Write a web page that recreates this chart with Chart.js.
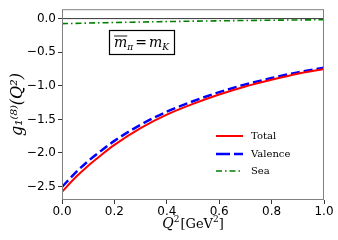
<!DOCTYPE html>
<html>
<head>
<meta charset="utf-8">
<script src="https://cdn.jsdelivr.net/npm/chart.js@4.4.1/dist/chart.umd.min.js"></script>
<style>
  html, body { margin: 0; padding: 0; background: #fff; }
  #wrap { width: 338px; height: 240px; }
</style>
</head>
<body>
<div id="wrap"><canvas id="grafica"></canvas></div>
<script>
//Datos
const qValues = [0, 0.05, 0.1, 0.15, 0.2, 0.3, 0.4, 0.5, 0.6, 0.7, 0.8, 0.9, 1.0];
const totalValues = [-2.58, -2.37, -2.19, -2.03, -1.88, -1.63, -1.43, -1.27, -1.13, -1.01, -0.91, -0.82, -0.75];
const valenceValues = [-2.505, -2.30, -2.12, -1.965, -1.82, -1.58, -1.385, -1.23, -1.095, -0.98, -0.885, -0.80, -0.73];
const seaValues = [-0.075, -0.071, -0.066, -0.062, -0.058, -0.051, -0.044, -0.038, -0.033, -0.028, -0.024, -0.020, -0.017];

const xTicks = [0, 0.2, 0.4, 0.6, 0.8, 1.0];
const yTicks = [0, -0.5, -1.0, -1.5, -2.0, -2.5];
const legendLabels = ['Total', 'Valence', 'Sea'];

function puntos(ys) {
  return qValues.map((q, i) => ({ x: q, y: ys[i] }));
}

function formato(v) {
  return v.toFixed(1).replace('-', '\u2212');
}

//Extras: linea cero, marco, leyenda, caja de texto y titulo x
const extras = {
  id: 'extras',
  beforeDatasetsDraw(chart) {
    const { ctx, chartArea, scales } = chart;
    const y0 = scales.y.getPixelForValue(0);
    ctx.save();
    ctx.strokeStyle = '#000';
    ctx.lineWidth = 0.8;
    ctx.beginPath();
    ctx.moveTo(chartArea.left, y0);
    ctx.lineTo(chartArea.right, y0);
    ctx.stroke();
    ctx.restore();
  },
  afterDraw(chart) {
    const { ctx, chartArea } = chart;
    ctx.save();
    // marco
    ctx.strokeStyle = '#808080';
    ctx.lineWidth = 1;
    ctx.strokeRect(chartArea.left + 0.5, chartArea.top + 0.5,
      chartArea.right - chartArea.left - 1, chartArea.bottom - chartArea.top - 1);

    // leyenda
    const ds = chart.data.datasets;
    const ys = [136, 154, 171];
    ctx.font = '10px "DejaVu Serif"';
    ctx.textBaseline = 'middle';
    ctx.fillStyle = '#000';
    for (let i = 0; i < 3; i++) {
      ctx.strokeStyle = ds[i].borderColor;
      ctx.lineWidth = ds[i].borderWidth;
      ctx.setLineDash(i === 0 ? [] : (i === 1 ? [14, 4] : [6, 3, 1.5, 3]));
      ctx.beginPath();
      ctx.moveTo(216, ys[i]);
      ctx.lineTo(243, ys[i]);
      ctx.stroke();
      ctx.setLineDash([]);
      ctx.fillText(legendLabels[i], 251, ys[i]);
    }

    // caja de texto
    ctx.strokeStyle = '#000';
    ctx.lineWidth = 1.2;
    ctx.strokeRect(109.5, 30.5, 65, 24);
    ctx.textBaseline = 'alphabetic';
    ctx.font = 'italic 14px "DejaVu Serif"';
    let x = 114;
    const base = 47;
    const wm = ctx.measureText('m').width;
    ctx.fillText('m', x, base);
    ctx.lineWidth = 0.9;
    ctx.beginPath();
    ctx.moveTo(x, base - 11);
    ctx.lineTo(x + wm, base - 11);
    ctx.stroke();
    x += wm;
    ctx.font = 'italic 9px "DejaVu Serif"';
    ctx.fillText('\u03c0', x, base + 3);
    x += ctx.measureText('\u03c0').width + 2;
    ctx.font = '14px "DejaVu Serif"';
    ctx.fillText('=', x, base);
    x += ctx.measureText('=').width + 2;
    ctx.font = 'italic 14px "DejaVu Serif"';
    ctx.fillText('m', x, base);
    x += wm;
    ctx.font = 'italic 9px "DejaVu Serif"';
    ctx.fillText('K', x, base + 3);

    // titulo eje x: Q^2[GeV^2]
    const tb = 228;
    ctx.font = 'italic 14px "DejaVu Serif"';
    const wQ = ctx.measureText('Q').width;
    ctx.font = '9px "DejaVu Serif"';
    const w2 = ctx.measureText('2').width;
    ctx.font = '13px "DejaVu Serif"';
    const wG = ctx.measureText('[GeV').width;
    const wB = ctx.measureText(']').width;
    const total = wQ + w2 + 1 + wG + w2 + wB;
    let tx = 193 - total / 2;
    ctx.font = 'italic 14px "DejaVu Serif"';
    ctx.fillText('Q', tx, tb);
    tx += wQ;
    ctx.font = '9px "DejaVu Serif"';
    ctx.fillText('2', tx, tb - 6);
    tx += w2 + 1;
    ctx.font = '13px "DejaVu Serif"';
    ctx.fillText('[GeV', tx, tb);
    tx += wG;
    ctx.font = '9px "DejaVu Serif"';
    ctx.fillText('2', tx, tb - 6);
    tx += w2;
    ctx.font = '13px "DejaVu Serif"';
    ctx.fillText(']', tx, tb);
    ctx.restore();
  }
};

const grafica = document.getElementById('grafica');

let grafica_OBJ = new Chart(grafica, {
  type: 'line',
  data: {
    datasets: [{
      label: legendLabels[0],
      data: puntos(totalValues),
      borderColor: '#ff0000',
      borderWidth: 2,
      pointRadius: 0,
      fill: false,
      cubicInterpolationMode: 'monotone'
    }, {
      label: legendLabels[1],
      data: puntos(valenceValues),
      borderColor: '#0000ff',
      borderWidth: 2.5,
      borderDash: [9, 4],
      pointRadius: 0,
      fill: false,
      cubicInterpolationMode: 'monotone'
    }, {
      label: legendLabels[2],
      data: puntos(seaValues),
      borderColor: '#008000',
      borderWidth: 1.6,
      borderDash: [6, 3, 1.5, 3],
      pointRadius: 0,
      fill: false,
      cubicInterpolationMode: 'monotone'
    }]
  },
  options: {
    responsive: true,
    maintainAspectRatio: false,
    animation: false,
    layout: { padding: { top: 2, right: 14, left: 0, bottom: 0 } },
    plugins: {
      legend: { display: false },
      tooltip: { enabled: false }
    },
    scales: {
      x: {
        type: 'linear',
        min: 0,
        max: 1,
        afterBuildTicks: (s) => { s.ticks = xTicks.map(v => ({ value: v })); },
        afterFit: (s) => { s.height = 40; },
        grid: { drawOnChartArea: false, tickLength: 4, color: '#000', tickWidth: 0.8 },
        border: { display: false },
        ticks: {
          color: '#000',
          font: { family: 'DejaVu Sans', size: 12 },
          padding: 1,
          maxRotation: 0,
          callback: (v) => formato(v)
        }
      },
      y: {
        min: -2.70,
        max: 0.14,
        afterBuildTicks: (s) => { s.ticks = yTicks.map(v => ({ value: v })); },
        afterFit: (s) => { s.width = 62; },
        grid: { drawOnChartArea: false, tickLength: 4, color: '#000', tickWidth: 0.8 },
        border: { display: false },
        ticks: {
          color: '#000',
          font: { family: 'DejaVu Sans', size: 12 },
          padding: 2,
          callback: (v) => formato(v)
        },
        title: {
          display: true,
          text: 'g\u2081\u207d\u2078\u207e(Q\u00b2)',
          color: '#000',
          font: { family: 'DejaVu Serif', size: 16, style: 'italic' },
          padding: { top: 8, bottom: 0 }
        }
      }
    }
  },
  plugins: [extras]
});
</script>
</body>
</html>
